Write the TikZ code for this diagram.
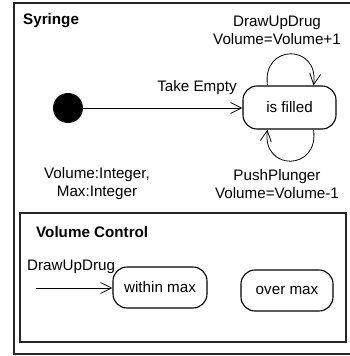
\documentclass[tikz,border=0pt]{standalone}
\usepackage{fontspec}
\setmainfont{Liberation Sans}
\usetikzlibrary{arrows.meta}
\begin{document}
\begin{tikzpicture}[x=1pt,y=-1pt,
  font=\fontsize{15.2}{18}\selectfont,
  frame/.style={draw=black!85,line width=1.1pt},
  state/.style={draw,line width=1.1pt,rounded corners=14pt,inner sep=0pt},
  lbl/.style={inner sep=0pt,align=center},
  trans/.style={line width=0.8pt,-{Straight Barb[length=11pt,width=11pt,line width=0.8pt]}}]
\useasboundingbox (0,0) rectangle (349,356);
\draw[frame] (14,3) rectangle (356,354);
\draw[frame] (20,213) rectangle (346,342);
\node[lbl,anchor=west,font=\fontsize{15.2}{18}\selectfont\bfseries] (syr) at (23,21) {Syringe};
\node[lbl,anchor=west,font=\fontsize{15.2}{18}\selectfont\bfseries] (vc) at (36,232) {Volume Control};
\node[circle,fill=black,minimum size=30pt,inner sep=0pt] (init) at (68,108) {};
\node[state,minimum width=93pt,minimum height=43pt] (filled) at (289.5,107.5) {is filled};
\node[state,minimum width=94pt,minimum height=41pt] (within) at (160,287.5) {within max};
\node[state,minimum width=92pt,minimum height=41pt] (over) at (287,290.5) {over max};
\draw[trans] (init) -- (filled.west |- init);
\node[lbl] (te) at (197,88) {Take Empty};
\draw[trans] ([xshift=-22pt]filled.north) .. controls +(-6,-42) and +(6,-42) .. ([xshift=24pt]filled.north);
\draw[trans] ([xshift=24pt]filled.south) .. controls +(6,42) and +(-6,42) .. ([xshift=-22pt]filled.south);
\node[lbl] (du) at (277,30) {DrawUpDrug\\Volume=Volume+1};
\node[lbl] (pp) at (277,184) {PushPlunger\\Volume=Volume-1};
\node[lbl] (vars) at (97,184) {Volume:Integer,\\Max:Integer};
\coordinate (src) at (36,288);
\draw[trans] (src) -- (within.west |- src);
\node[lbl,anchor=west] (dud) at (27,267) {DrawUpDrug};
\end{tikzpicture}
\end{document}
